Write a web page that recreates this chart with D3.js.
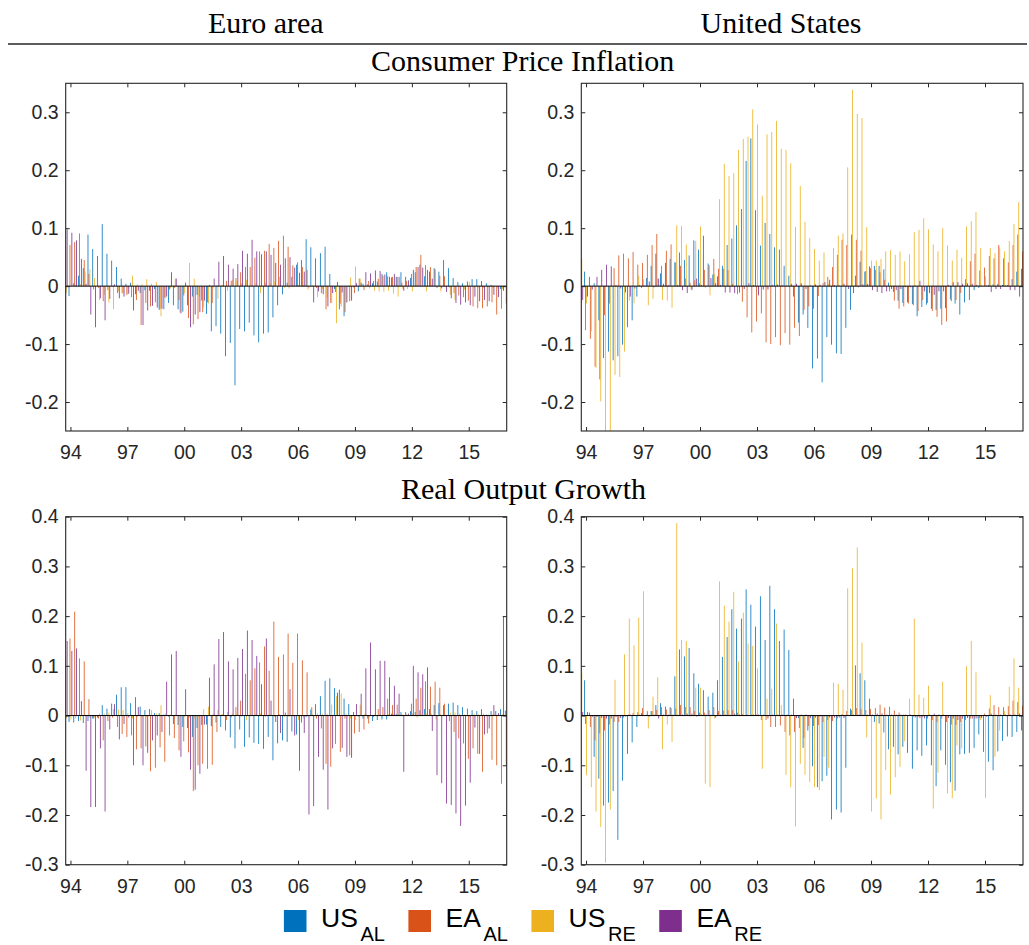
<!DOCTYPE html>
<html>
<head>
<meta charset="utf-8">
<script src="https://cdn.jsdelivr.net/npm/d3@7"></script>
<style>
  body { margin: 0; background: #fff; }
  svg { display: block; }
</style>
</head>
<body>
<svg id="chart" width="1029" height="945"></svg>
<script>
// ---------- categories: quarters 1993Q4 .. 2017Q1 (as fractional years) ----------
const quarters = [];
for (let yr = 1993; yr <= 2017; yr++) {
  for (let q = 0; q < 4; q++) {
    const t = yr + q / 4;
    if (t >= 1993.75 && t <= 2017.0) quarters.push(t);
  }
}

// ---------- series ----------
const seriesKeys = ["usAL", "eaAL", "usRE", "eaRE"];
const seriesNames = [["US", "AL"], ["EA", "AL"], ["US", "RE"], ["EA", "RE"]];
const seriesColors = ["#0072BD", "#D95319", "#EDB120", "#7E2F8E"];

// ---------- axis ticks ----------
const xTickYears = [1994, 1997, 2000, 2003, 2006, 2009, 2012, 2015];
const xTickLabels = ["94", "97", "00", "03", "06", "09", "12", "15"];
const inflationTicks = [-0.2, -0.1, 0, 0.1, 0.2, 0.3];
const inflationDomain = [-0.25, 0.35];
const growthTicks = [-0.3, -0.2, -0.1, 0, 0.1, 0.2, 0.3, 0.4];
const growthDomain = [-0.3, 0.4];

// ---------- Consumer price inflation, euro area ----------
const infEA_usAL = [
  0.000, -0.017, 0.005, 0.018, 0.031, 0.089, 0.064, 0.052, 0.107, 0.056,
  0.044, 0.033, 0.013, 0.004, 0.006, -0.014, -0.012, -0.007, -0.008, -0.005,
  -0.041, -0.040, -0.029, -0.033, -0.040, -0.044, -0.033, -0.018, -0.015, -0.025,
  -0.048, -0.078, -0.069, -0.082, -0.121, -0.098, -0.171, -0.074, -0.078, -0.063,
  -0.085, -0.097, -0.082, -0.080, -0.054, -0.033, -0.014, 0.006, 0.016, 0.037,
  0.045, 0.081, 0.067, 0.048, 0.057, 0.068, 0.021, -0.005, -0.040, -0.052,
  -0.001, -0.002, -0.009, 0.004, 0.003, 0.005, 0.008, 0.021, 0.024, 0.015,
  0.016, 0.024, 0.016, 0.014, 0.024, 0.037, 0.017, 0.025, 0.031, 0.025,
  0.045, 0.031, 0.014, 0.007, 0.005, 0.008, 0.012, 0.012, 0.009, 0.005,
  0.002, 0.000, -0.005, 0.000];
const infEA_eaAL = [
  0.060, 0.071, 0.076, 0.091, 0.045, 0.021, -0.006, -0.003, -0.026, -0.007,
  -0.001, -0.012, -0.012, -0.015, -0.019, -0.024, -0.067, -0.029, -0.035, -0.028,
  -0.039, -0.020, -0.006, -0.003, -0.024, -0.016, -0.055, -0.066, -0.057, -0.045,
  -0.028, -0.029, 0.001, 0.001, 0.009, 0.009, 0.014, 0.024, 0.033, 0.033,
  0.049, 0.060, 0.061, 0.073, 0.066, 0.078, 0.087, 0.068, 0.036, 0.041,
  0.033, 0.028, 0.000, -0.003, -0.012, -0.040, -0.029, -0.010, -0.030, -0.045,
  -0.026, -0.012, 0.013, -0.007, 0.009, 0.009, 0.013, 0.018, 0.017, 0.016,
  0.016, 0.006, 0.009, 0.021, 0.033, 0.054, 0.036, 0.033, 0.029, 0.018,
  0.017, -0.002, -0.012, -0.016, -0.019, -0.025, -0.035, -0.038, -0.038, -0.035,
  -0.028, -0.049, -0.039, -0.030];
const infEA_usRE = [
  -0.012, 0.000, 0.002, 0.003, 0.025, 0.029, 0.014, -0.024, -0.015, -0.028,
  -0.040, -0.009, -0.013, -0.014, 0.018, 0.003, 0.003, 0.012, 0.004, 0.007,
  -0.052, -0.021, -0.004, 0.013, -0.045, -0.012, 0.040, 0.013, -0.018, -0.037,
  -0.030, -0.004, -0.022, 0.002, -0.008, 0.011, 0.009, 0.005, 0.011, 0.002,
  0.005, -0.012, 0.006, 0.005, 0.008, 0.016, -0.003, -0.004, 0.002, 0.002,
  0.002, -0.006, 0.002, -0.019, -0.005, -0.020, -0.029, -0.064, -0.035, -0.028,
  0.015, 0.034, 0.013, -0.002, -0.004, -0.008, -0.009, -0.010, -0.008, -0.013,
  -0.018, -0.005, -0.005, -0.009, 0.002, -0.001, -0.009, 0.002, 0.002, -0.009,
  -0.002, -0.015, -0.024, -0.002, -0.006, 0.007, -0.003, -0.002, -0.003, -0.002,
  -0.003, -0.004, -0.005, 0.000];
const infEA_eaRE = [
  0.098, 0.092, 0.079, 0.047, 0.004, -0.049, -0.071, -0.021, -0.059, -0.022,
  0.003, -0.021, -0.018, -0.013, -0.042, -0.008, -0.067, -0.042, -0.034, -0.037,
  -0.039, -0.018, 0.024, 0.013, -0.047, 0.006, -0.071, -0.049, -0.045, -0.025,
  0.002, 0.013, 0.042, 0.052, 0.037, 0.030, 0.038, 0.061, 0.056, 0.080,
  0.060, 0.055, 0.060, 0.054, 0.040, 0.037, 0.048, 0.050, 0.032, 0.023,
  0.025, -0.002, -0.028, -0.009, -0.014, -0.035, -0.012, 0.007, -0.011, -0.028,
  -0.025, 0.005, 0.006, 0.024, 0.022, 0.027, 0.026, 0.020, 0.016, 0.021,
  0.016, -0.008, 0.010, 0.028, 0.033, 0.032, 0.028, 0.013, -0.003, -0.004,
  -0.010, -0.021, -0.029, -0.032, -0.028, -0.033, -0.018, -0.026, -0.024, -0.026,
  -0.015, -0.019, -0.008, 0.000];

// ---------- Consumer price inflation, United States ----------
const infUS_usAL = [
  0.000, 0.025, 0.016, 0.005, -0.059, -0.124, -0.113, -0.128, -0.121, -0.101,
  -0.071, -0.059, -0.018, -0.003, 0.014, 0.035, 0.056, 0.022, 0.040, 0.047,
  0.041, 0.058, 0.045, 0.053, 0.079, 0.063, 0.087, 0.039, 0.020, 0.017,
  0.035, 0.071, 0.082, 0.105, 0.133, 0.216, 0.255, 0.131, 0.070, 0.109,
  0.090, 0.067, 0.063, 0.035, 0.018, -0.018, -0.063, -0.049, -0.072, -0.142,
  -0.125, -0.166, -0.088, -0.101, -0.116, -0.117, -0.072, -0.041, 0.018, 0.042,
  0.025, 0.034, 0.035, 0.035, 0.029, 0.006, -0.010, -0.025, -0.029, -0.028,
  -0.031, -0.052, -0.036, -0.032, -0.039, -0.041, -0.039, -0.038, -0.023, -0.030,
  -0.049, -0.028, -0.024, -0.007, -0.003, 0.000, 0.002, 0.003, 0.004, 0.002,
  0.002, 0.012, 0.025, 0.030];
const infUS_eaAL = [
  -0.030, -0.076, -0.091, -0.139, -0.161, -0.050, -0.030, 0.031, 0.053, 0.056,
  0.048, 0.059, 0.037, 0.040, 0.054, 0.071, 0.090, 0.035, 0.061, 0.072,
  0.041, 0.035, 0.013, 0.006, 0.010, 0.005, 0.028, 0.036, 0.047, 0.030,
  0.030, 0.028, 0.004, -0.014, -0.027, -0.054, -0.080, -0.061, -0.047, -0.097,
  -0.100, -0.088, -0.102, -0.081, -0.101, -0.072, -0.086, -0.041, -0.035, -0.039,
  -0.017, 0.005, 0.016, 0.033, 0.054, 0.080, 0.071, 0.089, 0.080, 0.061,
  0.026, 0.031, 0.028, 0.024, 0.011, -0.009, -0.025, -0.039, -0.035, -0.030,
  -0.033, -0.043, -0.024, -0.029, -0.043, -0.053, -0.067, -0.061, -0.026, -0.024,
  -0.012, 0.012, 0.043, 0.056, 0.027, 0.032, 0.052, 0.048, 0.071, 0.048,
  0.041, 0.071, 0.089, 0.060];
const infUS_usRE = [
  0.047, -0.030, -0.078, -0.141, -0.199, -0.280, -0.270, -0.153, -0.157, -0.113,
  -0.025, -0.030, 0.018, 0.012, -0.033, -0.022, 0.013, -0.024, -0.025, -0.037,
  0.105, 0.104, 0.072, -0.005, 0.078, 0.103, -0.003, -0.016, 0.021, 0.150,
  0.211, 0.190, 0.195, 0.235, 0.254, 0.258, 0.305, 0.279, 0.156, 0.262,
  0.266, 0.285, 0.237, 0.235, 0.212, 0.102, 0.173, 0.111, 0.083, 0.064,
  0.044, 0.058, 0.005, 0.066, 0.087, 0.091, 0.205, 0.339, 0.297, 0.290,
  0.102, 0.044, 0.044, 0.047, 0.060, 0.062, 0.054, 0.060, 0.043, 0.055,
  0.093, 0.097, 0.117, 0.098, 0.072, 0.060, 0.100, 0.070, 0.044, 0.063,
  0.049, 0.103, 0.112, 0.128, 0.066, 0.017, 0.066, 0.057, 0.067, 0.060,
  0.078, 0.107, 0.145, 0.100];
const infUS_eaRE = [
  -0.024, -0.018, -0.006, 0.016, 0.028, 0.037, 0.034, 0.002, -0.004, -0.011,
  -0.018, -0.004, 0.002, 0.001, 0.008, -0.002, 0.013, 0.004, 0.002, 0.001,
  0.002, -0.007, -0.012, -0.007, 0.013, 0.002, 0.001, 0.014, 0.005, 0.002,
  -0.011, -0.011, -0.012, -0.011, -0.005, 0.005, 0.002, -0.016, -0.006, -0.006,
  0.002, 0.003, 0.002, 0.001, 0.004, 0.004, 0.005, -0.005, 0.001, 0.003,
  0.002, 0.007, 0.011, 0.002, 0.001, 0.004, -0.005, -0.012, -0.002, 0.003,
  0.004, -0.007, -0.010, -0.012, -0.009, -0.005, -0.007, -0.005, -0.002, -0.002,
  0.001, 0.009, -0.009, -0.012, -0.015, -0.009, -0.009, 0.002, 0.007, 0.007,
  0.004, 0.005, 0.004, 0.002, 0.001, 0.001, -0.010, -0.005, -0.005, 0.001,
  -0.007, -0.007, -0.018, 0.000];

// ---------- Real output growth, euro area ----------
const grwEA_usAL = [
  0.000, -0.013, -0.014, -0.011, -0.015, -0.011, -0.006, -0.004, 0.021, 0.014,
  0.024, 0.042, 0.057, 0.057, 0.025, 0.037, 0.018, 0.011, 0.013, 0.005,
  0.005, 0.002, -0.002, -0.017, -0.019, -0.023, -0.025, -0.043, -0.025, -0.019,
  -0.018, -0.021, -0.014, -0.023, -0.030, -0.044, -0.066, -0.028, -0.063, -0.044,
  -0.055, -0.057, -0.067, -0.043, -0.090, -0.056, -0.050, -0.053, -0.032, -0.038,
  -0.014, -0.003, 0.012, 0.023, 0.039, 0.070, 0.075, 0.055, 0.052, 0.034,
  0.023, 0.007, -0.002, -0.006, -0.006, -0.011, -0.009, -0.008, -0.008, 0.004,
  0.003, 0.007, 0.007, 0.009, 0.007, 0.011, 0.013, 0.013, 0.021, 0.025,
  0.021, 0.024, 0.026, 0.021, 0.017, 0.014, 0.011, 0.009, 0.013, 0.002,
  0.009, 0.009, 0.013, 0.010];
const grwEA_eaAL = [
  0.120, 0.155, 0.209, 0.115, 0.109, 0.033, -0.006, -0.006, -0.050, -0.011,
  -0.004, -0.023, -0.037, -0.043, -0.040, -0.068, -0.066, -0.062, -0.112, -0.105,
  -0.064, -0.093, -0.040, -0.045, -0.070, -0.052, -0.074, -0.152, -0.100, -0.097,
  -0.107, -0.099, -0.033, 0.002, -0.009, -0.004, 0.017, 0.030, 0.084, 0.071,
  0.095, 0.107, 0.139, 0.090, 0.189, 0.118, 0.123, 0.165, 0.106, 0.165,
  0.111, 0.087, 0.017, -0.006, -0.026, -0.097, -0.103, -0.057, -0.073, -0.006,
  -0.080, -0.036, -0.033, -0.028, -0.016, -0.003, 0.013, 0.017, 0.034, 0.021,
  0.022, 0.002, 0.002, 0.024, 0.034, 0.056, 0.069, 0.058, 0.068, 0.056,
  0.024, -0.011, -0.033, -0.046, -0.056, -0.087, -0.066, -0.077, -0.113, -0.036,
  -0.089, -0.100, -0.137, -0.100];
const grwEA_usRE = [
  -0.005, -0.008, -0.006, -0.010, 0.002, -0.005, -0.004, 0.004, 0.004, 0.006,
  0.013, 0.012, 0.011, 0.005, -0.006, -0.003, -0.003, -0.003, 0.011, 0.004,
  0.021, 0.004, 0.002, 0.002, -0.002, -0.003, -0.004, -0.006, -0.004, 0.013,
  0.018, 0.004, 0.011, 0.003, 0.007, 0.004, 0.004, -0.002, -0.009, 0.002,
  0.003, 0.004, -0.003, 0.002, -0.003, 0.003, -0.003, -0.003, -0.002, -0.009,
  -0.005, -0.002, 0.003, 0.004, 0.004, 0.004, 0.022, 0.039, 0.044, 0.004,
  -0.006, -0.009, 0.022, 0.004, -0.003, 0.002, 0.002, 0.002, 0.003, 0.003,
  0.003, 0.002, 0.002, 0.004, -0.004, 0.003, 0.004, 0.004, -0.008, 0.003,
  0.002, 0.006, 0.006, 0.004, 0.002, -0.003, 0.004, 0.003, 0.004, 0.002,
  0.003, 0.002, 0.003, 0.000];
const grwEA_eaRE = [
  0.150, 0.130, 0.135, 0.029, -0.111, -0.184, -0.184, -0.066, -0.193, -0.028,
  0.023, -0.048, -0.017, -0.004, -0.100, 0.017, -0.100, -0.075, -0.050, -0.040,
  -0.033, 0.068, 0.123, 0.130, -0.083, 0.053, -0.109, -0.149, -0.117, -0.018,
  0.076, 0.103, 0.154, 0.168, 0.109, 0.093, 0.116, 0.134, 0.171, 0.152,
  0.120, 0.063, 0.155, 0.030, -0.013, -0.035, 0.006, 0.053, -0.040, -0.111,
  -0.035, -0.199, -0.182, -0.083, -0.109, -0.189, -0.066, 0.046, -0.065, -0.083,
  -0.085, 0.023, 0.044, 0.095, 0.147, 0.093, 0.110, 0.110, 0.077, 0.060,
  0.044, -0.113, 0.004, 0.100, 0.087, 0.083, 0.097, -0.031, -0.120, -0.136,
  -0.177, -0.180, -0.197, -0.222, -0.181, -0.135, -0.024, -0.077, -0.038, -0.026,
  0.021, 0.005, 0.199, 0.000];

// ---------- Real output growth, United States ----------
const grwUS_usAL = [
  0.000, 0.071, 0.006, -0.083, -0.127, -0.181, -0.175, -0.152, -0.250, -0.131,
  -0.077, -0.054, -0.023, 0.005, 0.002, 0.009, 0.021, 0.025, 0.018, 0.017,
  0.079, 0.133, 0.119, 0.136, 0.085, 0.064, 0.051, 0.038, 0.046, 0.071,
  0.118, 0.158, 0.214, 0.175, 0.195, 0.254, 0.223, 0.179, 0.240, 0.152,
  0.261, 0.214, 0.150, 0.173, 0.132, 0.034, -0.005, -0.065, -0.030, -0.102,
  -0.144, -0.132, -0.121, -0.209, -0.189, -0.195, -0.105, 0.014, 0.101, 0.085,
  0.071, 0.034, -0.013, -0.016, -0.034, -0.068, -0.063, -0.078, -0.063, -0.075,
  -0.107, -0.070, -0.081, -0.060, -0.100, -0.142, -0.070, -0.099, -0.134, -0.151,
  -0.078, -0.077, -0.075, -0.065, -0.038, -0.073, -0.093, -0.110, -0.072, -0.051,
  -0.042, -0.043, -0.033, -0.030];
const grwUS_eaAL = [
  0.000, -0.017, -0.023, -0.050, -0.036, -0.030, -0.018, -0.013, -0.013, -0.004,
  0.002, 0.005, 0.007, 0.015, 0.009, 0.009, 0.011, 0.017, 0.012, 0.015,
  0.014, 0.021, 0.017, 0.017, 0.009, 0.006, 0.006, 0.011, 0.017, 0.009,
  0.010, 0.011, 0.011, 0.006, 0.003, 0.002, 0.002, 0.002, -0.009, -0.009,
  -0.023, -0.023, -0.020, -0.033, -0.040, -0.033, -0.025, -0.045, -0.021, -0.021,
  -0.019, -0.013, -0.009, -0.011, -0.006, 0.003, 0.009, 0.011, 0.015, 0.013,
  0.011, 0.013, 0.015, 0.022, 0.016, 0.018, 0.010, 0.006, 0.002, 0.001,
  -0.002, -0.003, -0.003, -0.006, -0.009, -0.013, -0.006, -0.013, -0.018, -0.019,
  -0.013, -0.009, -0.006, -0.006, -0.005, 0.004, 0.014, 0.021, 0.017, 0.017,
  0.019, 0.030, 0.027, 0.020];
const grwUS_usRE = [
  0.086, -0.120, -0.144, -0.193, -0.224, -0.296, -0.189, 0.072, -0.002, 0.123,
  0.195, 0.141, 0.197, 0.250, -0.026, 0.038, 0.077, -0.068, -0.018, -0.053,
  0.387, 0.152, 0.150, -0.002, 0.056, 0.056, -0.137, -0.144, -0.006, 0.270,
  0.221, 0.189, 0.249, 0.109, 0.207, 0.145, 0.140, 0.095, -0.107, 0.034,
  0.054, 0.185, 0.021, -0.119, -0.144, -0.223, -0.097, -0.119, -0.134, -0.144,
  -0.150, -0.083, -0.105, 0.066, 0.064, 0.052, 0.256, 0.296, 0.338, 0.147,
  -0.044, -0.193, -0.167, -0.209, -0.110, -0.159, -0.124, -0.103, -0.052, 0.034,
  0.195, 0.042, 0.036, 0.060, -0.187, -0.115, 0.068, -0.157, -0.166, -0.060,
  -0.066, 0.099, 0.150, 0.087, -0.009, -0.166, 0.041, -0.083, -0.030, 0.009,
  0.058, 0.115, 0.056, 0.000];
const grwUS_eaRE = [
  0.007, 0.007, -0.003, -0.003, -0.005, -0.006, -0.006, -0.003, -0.005, -0.002,
  0.002, 0.001, 0.002, 0.001, -0.002, 0.002, -0.006, 0.002, 0.002, 0.002,
  0.002, 0.002, 0.004, 0.004, -0.002, 0.002, 0.002, 0.002, -0.004, 0.002,
  0.002, 0.002, 0.004, 0.002, 0.000, 0.000, 0.002, 0.002, 0.002, -0.006,
  0.002, 0.002, 0.002, 0.002, 0.002, -0.005, 0.002, 0.002, -0.005, -0.004,
  -0.002, -0.002, -0.004, -0.004, -0.004, -0.005, 0.001, 0.002, 0.002, 0.002,
  0.002, 0.002, 0.004, 0.004, 0.002, 0.002, 0.002, 0.002, 0.002, 0.002,
  -0.004, -0.005, -0.006, 0.002, 0.004, 0.002, 0.002, -0.005, -0.006, -0.009,
  -0.006, -0.005, -0.006, -0.006, -0.005, -0.002, 0.004, 0.002, 0.002, 0.002,
  0.002, 0.002, 0.004, 0.000];

// ---------- layout ----------
const W = 1029, H = 945;
const colLeft = [65.7, 581.3], colRight = [506.7, 1023];
const rowTop = [83.3, 516.7], rowBottom = [431, 864.7];
const axisColor = "#262626";
const sansFont = "'Liberation Sans', Arial, Helvetica, sans-serif";
const serifFont = "'Liberation Serif', 'Times New Roman', Times, serif";

const panels = [
  { col: 0, row: 0, values: [infEA_usAL, infEA_eaAL, infEA_usRE, infEA_eaRE], domain: inflationDomain, ticks: inflationTicks },
  { col: 1, row: 0, values: [infUS_usAL, infUS_eaAL, infUS_usRE, infUS_eaRE], domain: inflationDomain, ticks: inflationTicks },
  { col: 0, row: 1, values: [grwEA_usAL, grwEA_eaAL, grwEA_usRE, grwEA_eaRE], domain: growthDomain, ticks: growthTicks },
  { col: 1, row: 1, values: [grwUS_usAL, grwUS_eaAL, grwUS_usRE, grwUS_eaRE], domain: growthDomain, ticks: growthTicks }
];

const svg = d3.select("#chart").attr("viewBox", `0 0 ${W} ${H}`);
svg.append("rect").attr("width", W).attr("height", H).attr("fill", "#fff");
const defs = svg.append("defs");

const fmtTick = d => (d === 0 ? "0" : String(d));

panels.forEach((p, i) => {
  const left = colLeft[p.col], right = colRight[p.col];
  const top = rowTop[p.row], bottom = rowBottom[p.row];

  const x = d3.scaleLinear().domain([quarters[0], quarters[quarters.length - 1]]).range([left, right]);
  const y = d3.scaleLinear().domain(p.domain).range([bottom, top]);
  const band = d3.scaleBand().domain(seriesKeys).range([-1.9, 1.9]);

  const clipId = "plot-clip-" + i;
  defs.append("clipPath").attr("id", clipId)
    .append("rect")
    .attr("x", left).attr("y", top)
    .attr("width", right - left).attr("height", bottom - top);

  const g = svg.append("g");

  // grouped bars
  const barsG = g.append("g").attr("clip-path", `url(#${clipId})`);
  seriesKeys.forEach((key, j) => {
    barsG.append("g")
      .attr("fill", seriesColors[j])
      .selectAll("rect")
      .data(p.values[j])
      .join("rect")
      .attr("x", (v, k) => x(quarters[k]) + band(key) + 0.075)
      .attr("width", band.bandwidth() - 0.15)
      .attr("y", v => Math.min(y(v), y(0)))
      .attr("height", v => Math.abs(y(v) - y(0)));
  });

  // bar baseline
  g.append("line")
    .attr("x1", left).attr("x2", right)
    .attr("y1", y(0)).attr("y2", y(0))
    .attr("stroke", "#000").attr("stroke-width", 1);

  // axes (inward ticks on all four sides)
  const axisLeft = d3.axisLeft(y).tickValues(p.ticks).tickFormat(fmtTick).tickSize(-4).tickPadding(7);
  const axisRight = d3.axisRight(y).tickValues(p.ticks).tickFormat("").tickSize(-4);
  const xTickMap = new Map(xTickYears.map((yr, n) => [yr, xTickLabels[n]]));
  const axisBottom = d3.axisBottom(x).tickValues(xTickYears).tickFormat(d => xTickMap.get(d)).tickSize(-4).tickPadding(14);
  const axisTop = d3.axisTop(x).tickValues(xTickYears).tickFormat("").tickSize(-4);

  const styleAxis = sel => {
    sel.select(".domain").remove();
    sel.selectAll(".tick line").attr("stroke", axisColor).attr("stroke-width", 1);
    sel.selectAll(".tick text")
      .attr("fill", axisColor)
      .style("font-family", sansFont)
      .style("font-size", "19.5px");
  };

  g.append("g").attr("transform", `translate(${left},0)`).call(axisLeft).call(styleAxis);
  g.append("g").attr("transform", `translate(${right},0)`).call(axisRight).call(styleAxis);
  g.append("g").attr("transform", `translate(0,${bottom})`).call(axisBottom).call(styleAxis);
  g.append("g").attr("transform", `translate(0,${top})`).call(axisTop).call(styleAxis);

  // axes box
  g.append("rect")
    .attr("x", left).attr("y", top)
    .attr("width", right - left).attr("height", bottom - top)
    .attr("fill", "none").attr("stroke", axisColor).attr("stroke-width", 1.1);
});

// ---------- headings ----------
const headG = svg.append("g")
  .style("font-family", serifFont)
  .style("font-size", "30px")
  .attr("fill", "#000")
  .attr("text-anchor", "middle");
headG.append("text").attr("x", 265.8).attr("y", 33.3).text("Euro area");
headG.append("text").attr("x", 781).attr("y", 33.3).text("United States");
headG.append("text").attr("x", 522.6).attr("y", 71.2).text("Consumer Price Inflation");
headG.append("text").attr("x", 523.5).attr("y", 498.5).text("Real Output Growth");

svg.append("line")
  .attr("x1", 8).attr("x2", 1027)
  .attr("y1", 44).attr("y2", 44)
  .attr("stroke", axisColor).attr("stroke-width", 1.3);

// ---------- legend ----------
const legendG = svg.append("g").attr("transform", "translate(0,927.3)");
const items = [];
seriesKeys.forEach((key, j) => {
  const item = legendG.append("g");
  item.append("rect")
    .attr("x", 0).attr("y", -17.3)
    .attr("width", 22.6).attr("height", 22)
    .attr("fill", seriesColors[j]);
  const main = item.append("text")
    .attr("x", 37.2).attr("y", 0)
    .style("font-family", sansFont).style("font-size", "26.5px")
    .attr("fill", "#000")
    .text(seriesNames[j][0]);
  const mainW = main.node().getComputedTextLength();
  item.append("text")
    .attr("x", 37.2 + mainW + 2.5).attr("y", 13.4)
    .style("font-family", sansFont).style("font-size", "20px")
    .attr("fill", "#000")
    .text(seriesNames[j][1]);
  items.push(item);
});
const gap = 23.5;
let cursor = 0;
const offsets = items.map(item => {
  const off = cursor;
  cursor += item.node().getBBox().width + gap;
  return off;
});
const totalW = cursor - gap;
const startX = 523 - totalW / 2;
items.forEach((item, n) => item.attr("transform", `translate(${startX + offsets[n]},0)`));
</script>
</body>
</html>
